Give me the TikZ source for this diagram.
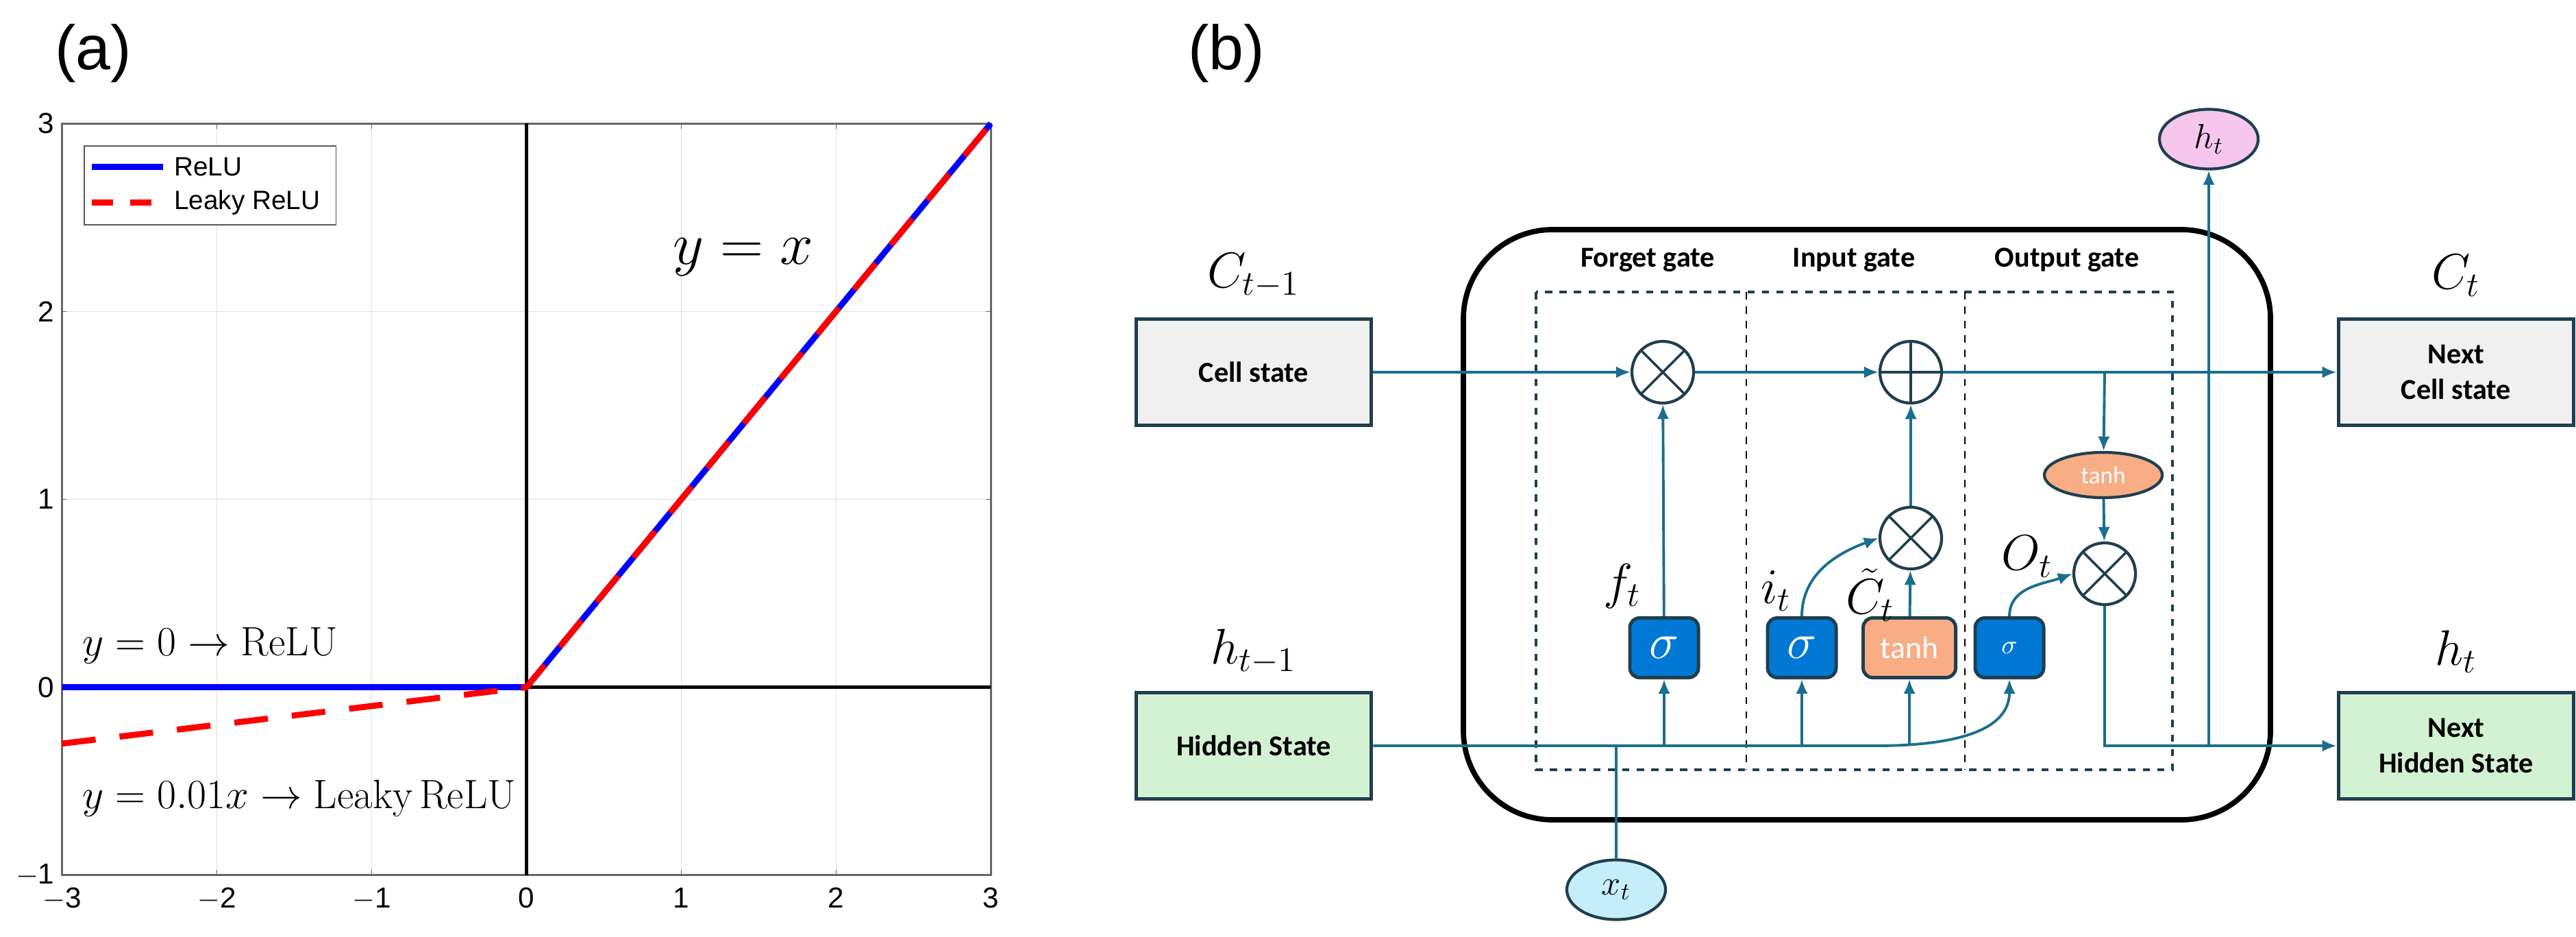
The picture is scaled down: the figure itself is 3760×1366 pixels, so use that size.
\documentclass[tikz,border=0pt]{standalone}
\usepackage{fontspec}
\setsansfont{Liberation Sans}
\newfontfamily\carlito{Carlito}
\usepackage{amsmath}
\usetikzlibrary{shapes.geometric, arrows.meta, positioning, calc}
\definecolor{flow}{HTML}{1A6E8E}
\definecolor{edge}{HTML}{1F3F4F}
\definecolor{sigblue}{HTML}{0078D4}
\definecolor{tanhor}{HTML}{F8AD85}
\definecolor{cellgray}{HTML}{F0F0F0}
\definecolor{hidgreen}{HTML}{D3F2D3}
\definecolor{outpink}{HTML}{F7C6EE}
\definecolor{inblue}{HTML}{C5EDFA}
\newcommand{\ticklabel}[1]{\ifnum#1<0 $-$\the\numexpr-#1\relax\else#1\fi}
\tikzset{
  state/.style={rectangle, draw=edge, line width=1.6pt, minimum width=3.43cm, minimum height=1.55cm, align=center, font=\carlito\bfseries\fontsize{12}{15}\selectfont},
  op/.style={circle, draw=edge, line width=1.2pt, minimum size=0.9cm, inner sep=0pt},
  mult/.style={op, path picture={\draw[edge, line width=1pt] (path picture bounding box.north west) -- (path picture bounding box.south east) (path picture bounding box.north east) -- (path picture bounding box.south west);}},
  plus/.style={op, path picture={\draw[edge, line width=1pt] (path picture bounding box.north) -- (path picture bounding box.south) (path picture bounding box.west) -- (path picture bounding box.east);}},
  act/.style={rectangle, rounded corners=4pt, draw=edge, line width=1.4pt, minimum height=0.87cm, text=white, font=\carlito\fontsize{13}{15}\selectfont},
  sig/.style={act, fill=sigblue, minimum width=1cm},
  io/.style={ellipse, draw=edge, line width=1.2pt, minimum width=1.44cm, minimum height=0.87cm, inner sep=0pt, font=\Large},
  link/.style={flow, line width=1.1pt},
  arr/.style={link, -{Latex[length=6pt, width=5pt]}},
  lbl/.style={font=\fontsize{20}{22}\selectfont},
  gate/.style={font=\carlito\bfseries\fontsize{12}{14}\selectfont},
  tick/.style={font=\sffamily\fontsize{12}{14}\selectfont}
}
\begin{document}
\begin{tikzpicture}[x=0.01cm, y=-0.01cm]
    \useasboundingbox (0,0) rectangle (3760,1366);

    % panel labels
    \node[font=\sffamily\fontsize{26}{30}\selectfont] (pa) at (136,78) {(a)};
    \node[font=\sffamily\fontsize{26}{30}\selectfont] (pb) at (1790,78) {(b)};

    % ---------- (a) activation plot ----------
    \begin{scope}[shift={(7.68cm,-10.02cm)}, x=2.258cm, y=2.74cm]
        % grid
        \foreach \x in {-2,-1,1,2} {
            \draw[gray!25] (\x,-1) -- (\x,3);
        }
        \foreach \y in {1,2} {
            \draw[gray!25] (-3,\y) -- (3,\y);
        }
        \draw[gray!80!black, thick] (-3,-1) rectangle (3,3);
        % tick labels
        \foreach \x in {-3,...,3} {
            \draw[gray!80!black] (\x,-1) -- (\x,-0.97) (\x,3) -- (\x,2.97);
            \node[below=5pt, inner sep=0pt, tick] at (\x,-1) {\ticklabel{\x}};
        }
        \foreach \y in {-1,...,3} {
            \draw[gray!80!black] (-3,\y) -- (-2.97,\y) (3,\y) -- (2.97,\y);
            \node[left=3pt, inner sep=0pt, tick] at (-3,\y) {\ticklabel{\y}};
        }
        % axes
        \draw[black, line width=1.2pt] (0,-1) -- (0,3);
        \draw[black, line width=1.2pt] (-3,0) -- (3,0);
        % curves
        \draw[blue, line width=2.5pt] (-3,0) -- (0,0) -- (3,3);
        \draw[red, line width=2.5pt, dash pattern=on 14pt off 10pt] (-3,-0.3) -- (0,0) -- (3,3);
        % legend
        \draw[gray!70!black, fill=white] (-2.857,2.46) rectangle (-1.231,2.88);
        \draw[blue, line width=2.5pt] (-2.81,2.77) -- (-2.35,2.77);
        \draw[red, line width=2.5pt, dash pattern=on 9pt off 7pt] (-2.81,2.58) -- (-2.35,2.58);
        \node[right, font=\sffamily\fontsize{11}{13}\selectfont] at (-2.33,2.77) {ReLU};
        \node[right, font=\sffamily\fontsize{11}{13}\selectfont] at (-2.33,2.58) {Leaky ReLU};
        % annotations
        \node[font=\fontsize{38}{40}\selectfont] at (1.40,2.29) {$y=x$};
        \node[right, inner sep=0pt, font=\fontsize{17}{19}\selectfont] at (-2.87,0.22) {$y=0\rightarrow\mathrm{ReLU}$};
        \node[right, inner sep=0pt, font=\fontsize{17}{19}\selectfont] at (-2.87,-0.59) {$y=0.01x\rightarrow\mathrm{Leaky\,ReLU}$};
    \end{scope}

    % ---------- (b) LSTM cell ----------
    \draw[black, line width=2.2pt, rounded corners=1.3cm] (2136,335) rectangle (3314,1196);
    \draw[edge, line width=1.1pt, dashed] (2242,426) rectangle (3171,1123);
    \draw[black, dashed] (2549,426) -- (2549,1123);
    \draw[black, dashed] (2868,426) -- (2868,1123);
    \node[gate] (gf) at (2405,379) {Forget gate};
    \node[gate] (gi) at (2706,379) {Input gate};
    \node[gate] (go) at (3017,379) {Output gate};

    % states
    \node[state, fill=cellgray] (cprev) at (1830,543) {Cell state};
    \node[state, fill=hidgreen] (hprev) at (1830,1088) {Hidden State};
    \node[state, fill=cellgray] (cnext) at (3585,543) {Next\\Cell state};
    \node[state, fill=hidgreen] (hnext) at (3585,1088) {Next\\Hidden State};
    \node[lbl] at (1830,402) {$C_{t-1}$};
    \node[lbl] at (1830,951) {$h_{t-1}$};
    \node[lbl] at (3585,402) {$C_t$};
    \node[lbl] at (3585,951) {$h_t$};

    % operators
    \node[mult] (fx) at (2427,543) {};
    \node[plus] (add) at (2789,543) {};
    \node[mult] (ix) at (2789,785) {};
    \node[mult] (ox) at (3072,837) {};
    \node[ellipse, draw=edge, line width=1.2pt, fill=tanhor, minimum width=1.72cm, minimum height=0.66cm, inner sep=0pt, text=white, font=\carlito\fontsize{10}{12}\selectfont] (ct) at (3070,693) {tanh};

    % activation blocks
    \node[sig, font=\fontsize{22}{24}\selectfont] (sf) at (2429,945) {$\sigma$};
    \node[sig, font=\fontsize{22}{24}\selectfont] (si) at (2630,945) {$\sigma$};
    \node[act, fill=tanhor, minimum width=1.35cm] (tc) at (2787,945) {tanh};
    \node[sig, font=\fontsize{11}{12}\selectfont] (so) at (2933,945) {$\sigma$};
    \node[lbl] at (2368,855) {$f_t$};
    \node[lbl] at (2592,862) {$i_t$};
    \node[lbl, inner sep=1pt] at (2730,868) {$\tilde{C}_t$};
    \node[lbl] at (2959,812) {$O_t$};

    % inputs / outputs
    \node[io, fill=inblue] (xt) at (2359,1298) {$x_t$};
    \node[io, fill=outpink] (ht) at (3224,203) {$h_t$};
    \coordinate (xj) at (2359,1088);
    \coordinate (cj) at (3072,543);
    \coordinate (hj) at (3224,1088);
    \coordinate (bend) at (2737,1088);

    % cell state path
    \draw[arr] (cprev) -- (fx);
    \draw[arr] (fx) -- (add);
    \draw[arr] (add) -- (cnext);
    \draw[arr] (cj) -- (ct);
    \draw[arr] (ct) -- (ox);

    % gate outputs
    \draw[arr] (sf) -- (fx);
    \draw[arr] (tc) -- (ix);
    \draw[arr] (ix) -- (add);
    \draw[arr] (si.north) to[out=90, in=200] (ix.west);
    \draw[arr] (so.north) to[out=90, in=200] (ox.west);

    % hidden state path
    \draw[link] (xt) -- (xj);
    \draw[arr] (hprev) -- (bend) to[out=0, in=270] (so.south);
    \draw[arr] (sf.south |- hprev) -- (sf);
    \draw[arr] (si.south |- hprev) -- (si);
    \draw[arr] (tc.south |- hprev) -- (tc);
    \draw[arr] (ox) |- (hnext);
    \draw[arr] (hj) -- (ht);
\end{tikzpicture}
\end{document}
